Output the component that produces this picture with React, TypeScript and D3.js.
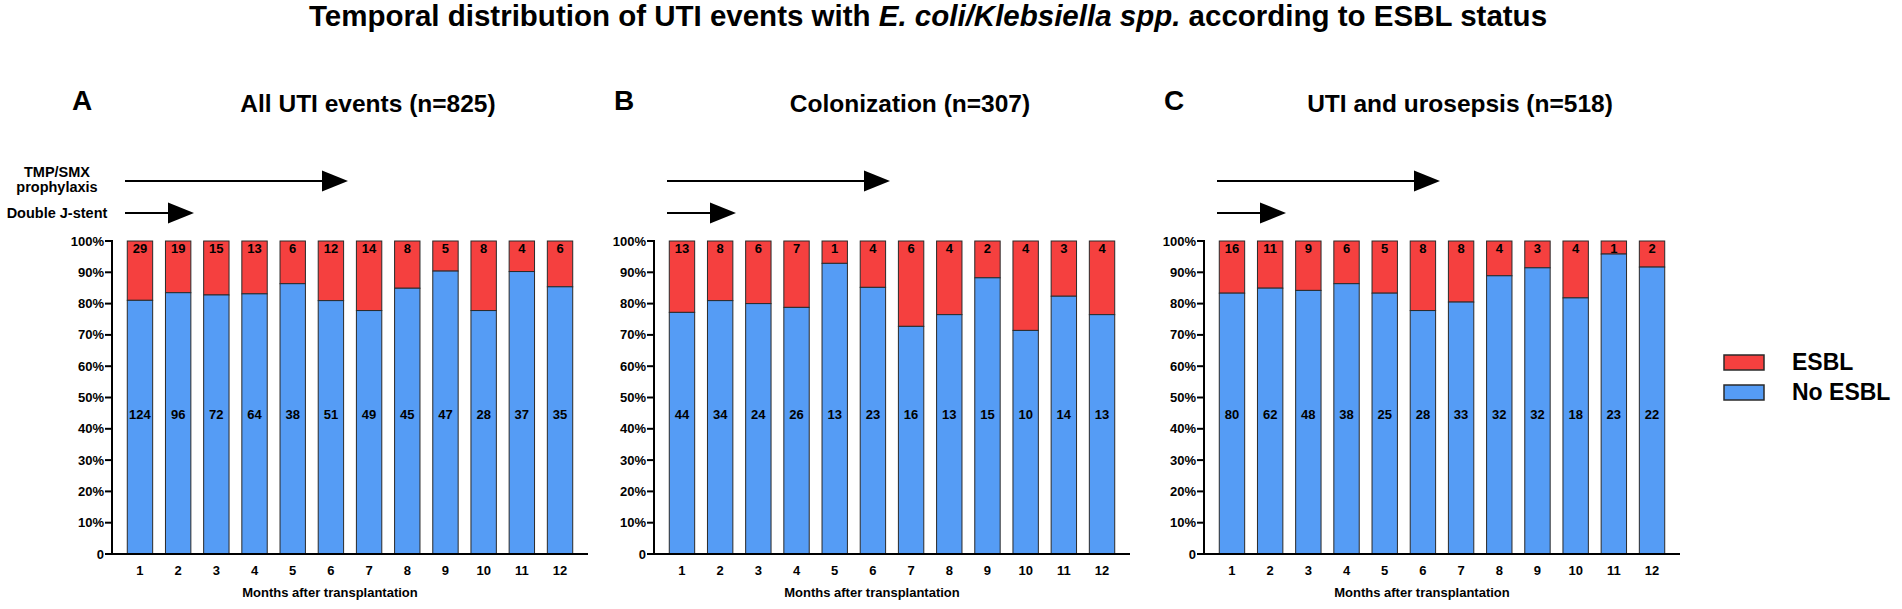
import React from "react";
import * as d3 from "d3";

const months = ["1", "2", "3", "4", "5", "6", "7", "8", "9", "10", "11", "12"];
const yTicks = [0, 0.1, 0.2, 0.3, 0.4, 0.5, 0.6, 0.7, 0.8, 0.9, 1.0];

const allEsbl = [29, 19, 15, 13, 6, 12, 14, 8, 5, 8, 4, 6];
const allNoEsbl = [124, 96, 72, 64, 38, 51, 49, 45, 47, 28, 37, 35];
const colEsbl = [13, 8, 6, 7, 1, 4, 6, 4, 2, 4, 3, 4];
const colNoEsbl = [44, 34, 24, 26, 13, 23, 16, 13, 15, 10, 14, 13];
const utiEsbl = [16, 11, 9, 6, 5, 8, 8, 4, 3, 4, 1, 2];
const utiNoEsbl = [80, 62, 48, 38, 25, 28, 33, 32, 32, 18, 23, 22];

const panelLetters = ["A", "B", "C"];
const panelTitles = ["All UTI events (n=825)", "Colonization (n=307)", "UTI and urosepsis (n=518)"];
const legendLabels = ["ESBL", "No ESBL"];

const RED = "#F5403F";
const BLUE = "#559CF5";
const FONT = "'Liberation Sans', Arial, Helvetica, sans-serif";

const panels = [
  { letter: panelLetters[0], title: panelTitles[0], esbl: allEsbl, no: allNoEsbl, x0: 112 },
  { letter: panelLetters[1], title: panelTitles[1], esbl: colEsbl, no: colNoEsbl, x0: 654 },
  { letter: panelLetters[2], title: panelTitles[2], esbl: utiEsbl, no: utiNoEsbl, x0: 1204 },
];

const PLOT_W = 476;
const Y0 = 554;
const Y1 = 241;

function Arrow({ x1, x2, y }: { x1: number; x2: number; y: number }) {
  const headLen = 26;
  const headH = 10.5;
  return (
    <g>
      <line x1={x1} x2={x2 - headLen + 2} y1={y} y2={y} stroke="#000" strokeWidth={2} />
      <polygon points={`${x2 - headLen},${y - headH} ${x2},${y} ${x2 - headLen},${y + headH}`} fill="#000" />
    </g>
  );
}

function Panel({ p, idx }: { p: (typeof panels)[number]; idx: number }) {
  const x = d3.scaleBand<string>().domain(months).range([p.x0, p.x0 + PLOT_W]).paddingInner(0.335).paddingOuter(0.4);
  const y = d3.scaleLinear().domain([0, 1]).range([Y0, Y1]);
  const bw = x.bandwidth();
  const barsCenter = p.x0 + PLOT_W / 2;
  return (
    <g fontFamily={FONT} fontWeight="bold">
      <text x={p.x0 - 30} y={110} fontSize={28} textAnchor="middle">{p.letter}</text>
      <text x={barsCenter + 18} y={112} fontSize={24.5} textAnchor="middle">{p.title}</text>
      {idx === 0 && (
        <g fontSize={14.5} textAnchor="middle">
          <text x={57} y={177}>TMP/SMX</text>
          <text x={57} y={192}>prophylaxis</text>
          <text x={57} y={218}>Double J-stent</text>
        </g>
      )}
      <Arrow x1={p.x0 + 13} x2={p.x0 + 236} y={181} />
      <Arrow x1={p.x0 + 13} x2={p.x0 + 82} y={213} />
      {months.map((m, i) => {
        const total = p.esbl[i] + p.no[i];
        const frac = p.no[i] / total;
        const bx = x(m)!;
        return (
          <g key={m}>
            <rect x={bx} y={y(1)} width={bw} height={y(frac) - y(1)} fill={RED} stroke="#2a2a2a" strokeWidth={1} />
            <rect x={bx} y={y(frac)} width={bw} height={y(0) - y(frac)} fill={BLUE} stroke="#2a2a2a" strokeWidth={1} />
            <text x={bx + bw / 2} y={253} fontSize={13} textAnchor="middle">{p.esbl[i]}</text>
            <text x={bx + bw / 2} y={419} fontSize={13} textAnchor="middle">{p.no[i]}</text>
            <text x={bx + bw / 2} y={575} fontSize={13} textAnchor="middle">{m}</text>
          </g>
        );
      })}
      <line x1={p.x0} x2={p.x0} y1={y(1) - 1} y2={y(0)} stroke="#000" strokeWidth={2} />
      <line x1={p.x0 - 7} x2={p.x0 + PLOT_W} y1={y(0)} y2={y(0)} stroke="#000" strokeWidth={2} />
      {yTicks.map((t) => (
        <g key={t}>
          <line x1={p.x0 - 7} x2={p.x0} y1={y(t)} y2={y(t)} stroke="#000" strokeWidth={2} />
          <text x={p.x0 - 8} y={y(t) + 4.5} fontSize={13} textAnchor="end">
            {t === 0 ? "0" : d3.format(".0%")(t)}
          </text>
        </g>
      ))}
      <text x={p.x0 + 218} y={597} fontSize={13} textAnchor="middle">Months after transplantation</text>
    </g>
  );
}

export default function App() {
  return (
    <svg width={1902} height={609} style={{ position: "absolute", left: 0, top: 0, background: "#fff" }}>
      <rect x={0} y={0} width={1902} height={609} fill="#fff" />
      <text x={928} y={26} fontFamily={FONT} fontWeight="bold" fontSize={29.5} textAnchor="middle">
        Temporal distribution of UTI events with <tspan fontStyle="italic">E. coli/Klebsiella spp.</tspan> according to ESBL status
      </text>
      {panels.map((p, i) => (
        <Panel key={p.letter} p={p} idx={i} />
      ))}
      <g fontFamily={FONT} fontWeight="bold">
        {legendLabels.map((l, i) => (
          <g key={l}>
            <rect x={1724} y={355 + i * 30} width={40} height={15} fill={i === 0 ? RED : BLUE} stroke="#2a2a2a" strokeWidth={1.5} />
            <text x={1792} y={370 + i * 30} fontSize={23}>{l}</text>
          </g>
        ))}
      </g>
    </svg>
  );
}
